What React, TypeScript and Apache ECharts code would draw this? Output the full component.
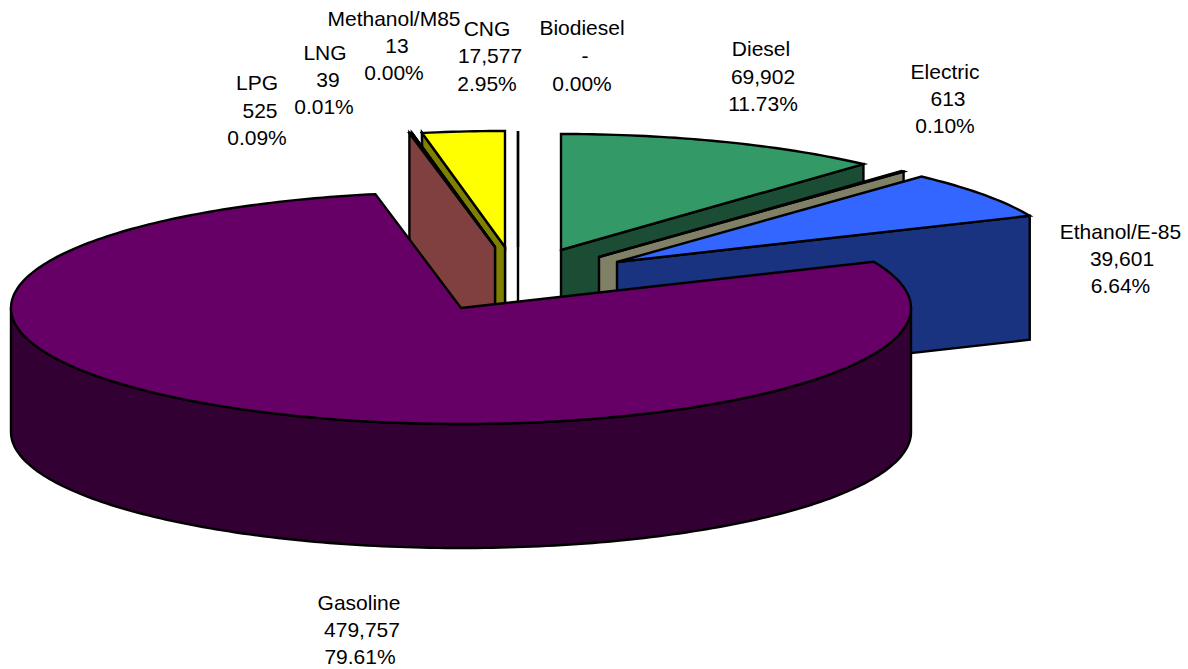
import React, { useEffect, useRef } from "react";
import * as echarts from "echarts";

const categories = ["Biodiesel", "Diesel", "Electric", "Ethanol/E-85", "Gasoline", "LPG", "LNG", "Methanol/M85", "CNG"];
const values = [0, 69902, 613, 39601, 479757, 525, 39, 13, 17577];
const percentLabels = ["0.00%", "11.73%", "0.10%", "6.64%", "79.61%", "0.09%", "0.01%", "0.00%", "2.95%"];
// the total implied by the printed percentages; gasoline takes what is left of the circle
const percentBase = 595925;
const remainderSlice = 4;

const topColors = ["#ffffff", "#339966", "#ffffcc", "#3366ff", "#660066", "#ff8080", "#00ccff", "#ccffcc", "#ffff00"];
const sideColors = ["#808080", "#1a4d33", "#808066", "#1a3380", "#330033", "#804040", "#006680", "#668066", "#808000"];

const CX = 461, CY = 308, RX = 450, RY = 116, DEPTH = 124;
// explosion of each slice, from the pie's centre, in pixels
const explodeX = [57, 100, 138, 156, 0, 34, 34, 44, 44];
const explodeY = [-61, -58, -51, -46, 0, -61, -61, -61, -61];
// centres of the three lines of each label
const nameX = [582, 761, 945, 1120.5, 359, 257, 325, 394, 487];
const nameY = [27, 48, 71, 231, 602, 82, 52, 18, 28];
const valueX = [585, 763, 948, 1122, 362, 260, 328, 397, 490];
const valueY = [55, 76, 98, 258, 629, 110, 79, 45, 55];
const pctX = [582, 763, 945, 1120.5, 360, 257, 324, 394, 487];
const pctY = [83, 103, 125, 285, 656, 137, 106, 72, 83];
const drawOrder = [0, 1, 2, 3, 7, 8, 6, 5, 4];

const startAngles: number[] = [];
const endAngles: number[] = [];
const sweep = (i: number) => (values[i] / percentBase) * 360;
let cw = 90;
for (let i = 0; i < remainderSlice; i++) {
  startAngles[i] = cw;
  cw -= sweep(i);
  endAngles[i] = cw;
}
let ccw = -270;
for (let i = values.length - 1; i > remainderSlice; i--) {
  endAngles[i] = ccw;
  ccw += sweep(i);
  startAngles[i] = ccw;
}
startAngles[remainderSlice] = cw;
endAngles[remainderSlice] = ccw;

const rad = (d: number) => (d * Math.PI) / 180;

function arc(ax: number, ay: number, from: number, to: number, dy = 0) {
  const n = Math.max(1, Math.ceil(Math.abs(from - to)));
  const pts: number[][] = [];
  for (let k = 0; k <= n; k++) {
    const t = from + ((to - from) * k) / n;
    pts.push([ax + RX * Math.cos(rad(t)), ay - RY * Math.sin(rad(t)) + dy]);
  }
  return pts;
}

function renderSlice(_: any, api: any) {
  const i = api.value(0) as number;
  const ax = CX + explodeX[i];
  const ay = CY + explodeY[i];
  const a0 = startAngles[i];
  const a1 = endAngles[i];
  const side = { fill: sideColors[i], stroke: "#000", lineWidth: 2.4, lineJoin: "miter", miterLimit: 6 };
  const children: any[] = [];
  const face = (angle: number) => {
    const [p] = arc(ax, ay, angle, angle);
    children.push({
      type: "polygon",
      shape: { points: [[ax, ay], p, [p[0], p[1] + DEPTH], [ax, ay + DEPTH]] },
      style: side,
    });
  };
  // cut faces turned towards the viewer
  if (Math.cos(rad(a0)) < 0 && a0 <= 180) face(a0);
  if (Math.cos(rad(a1)) > 0 && a1 >= -90) face(a1);
  // outer wall, front half only
  const wallFrom = Math.min(a0, 0);
  const wallTo = Math.max(a1, -180);
  if (wallFrom > wallTo) {
    const top = arc(ax, ay, wallFrom, wallTo);
    const bottom = arc(ax, ay, wallTo, wallFrom, DEPTH);
    children.push({ type: "polygon", shape: { points: [...top, ...bottom] }, style: side });
  }
  children.push({
    type: "polygon",
    shape: { points: [[ax, ay], ...arc(ax, ay, a0, a1)] },
    style: { ...side, fill: topColors[i] },
  });
  return { type: "group", children };
}

function renderLabel(_: any, api: any) {
  const i = api.value(0) as number;
  const v = values[i];
  const line = (text: string, x: number, y: number) => ({
    type: "text",
    style: {
      text,
      x,
      y,
      fill: "#000",
      font: '21px "Liberation Sans", Arial, sans-serif',
      align: "center",
      verticalAlign: "middle",
    },
  });
  return {
    type: "group",
    children: [
      line(categories[i], nameX[i], nameY[i]),
      line(v === 0 ? "-" : v.toLocaleString("en-US"), valueX[i], valueY[i]),
      line(percentLabels[i], pctX[i], pctY[i]),
    ],
  };
}

export default function App() {
  const ref = useRef<HTMLDivElement>(null);
  useEffect(() => {
    document.body.style.margin = "0";
    const chart = echarts.init(ref.current!, undefined, { renderer: "svg" });
    chart.setOption({
      animation: false,
      backgroundColor: "#fff",
      series: [
        {
          type: "custom",
          coordinateSystem: "none",
          renderItem: renderSlice,
          silent: true,
          data: drawOrder.map((i) => ({ name: categories[i], value: [i, values[i]] })),
        },
        {
          type: "custom",
          coordinateSystem: "none",
          renderItem: renderLabel,
          silent: true,
          z: 5,
          data: categories.map((name, i) => ({ name, value: [i, values[i]] })),
        },
      ],
    });
    return () => chart.dispose();
  }, []);
  return <div ref={ref} style={{ width: 1188, height: 669 }} />;
}
